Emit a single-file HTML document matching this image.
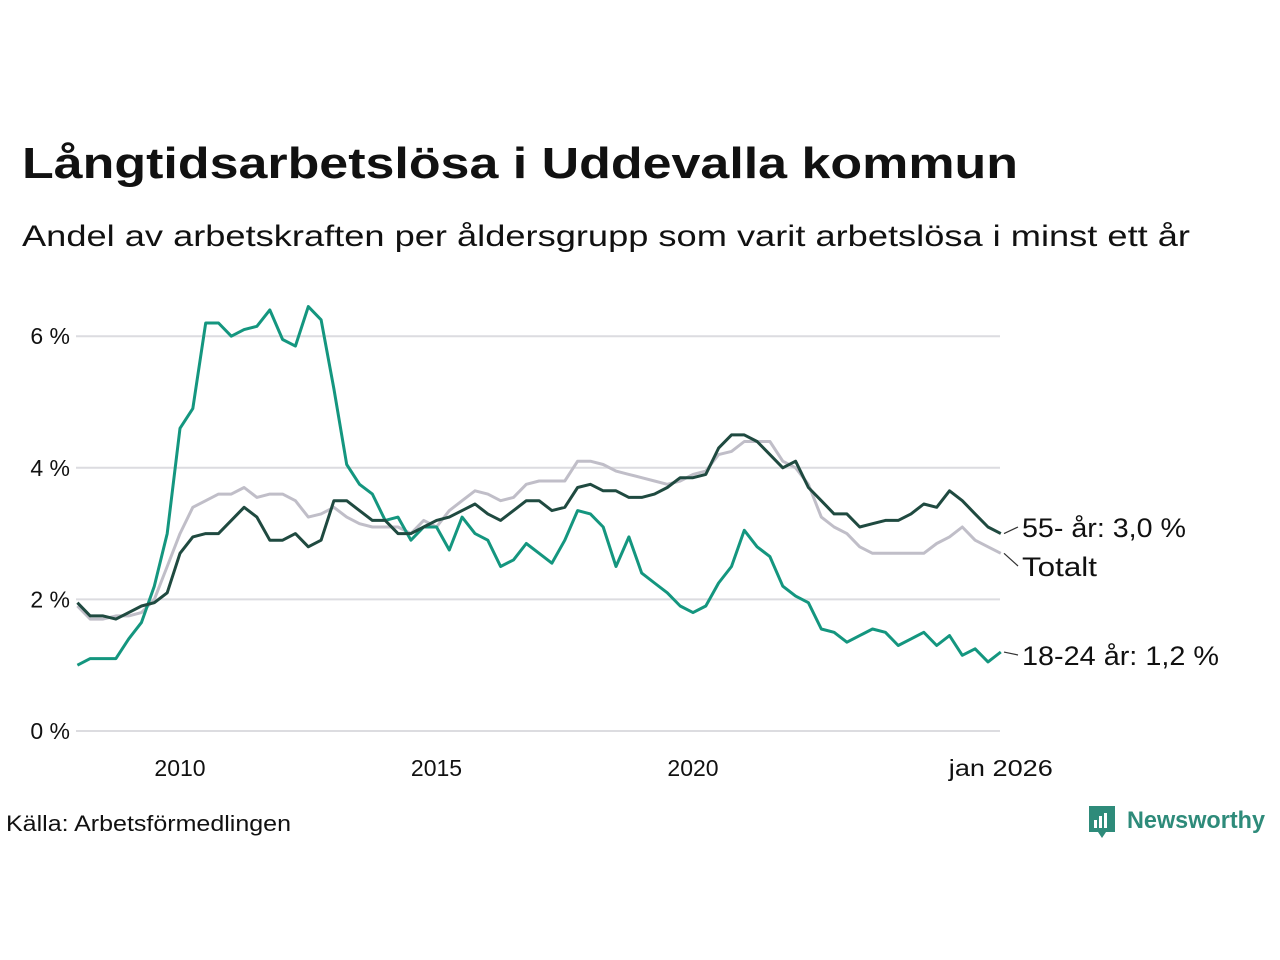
<!DOCTYPE html>
<html><head><meta charset="utf-8"><style>
html,body{margin:0;padding:0;background:#fff;}
svg{display:block;font-family:"Liberation Sans",sans-serif;}
</style></head><body>
<svg id="chart" width="1280" height="960" viewBox="0 0 1280 960" xmlns="http://www.w3.org/2000/svg">
<text x="22" y="178" font-size="44" font-weight="bold" fill="#111" textLength="996" lengthAdjust="spacingAndGlyphs">Långtidsarbetslösa i Uddevalla kommun</text>
<text x="22" y="246" font-size="30" fill="#111" textLength="1168" lengthAdjust="spacingAndGlyphs">Andel av arbetskraften per åldersgrupp som varit arbetslösa i minst ett år</text>
<g id="grid"></g>
<g id="series"></g>
<g id="labels"></g>
<text x="6" y="831" font-size="22" fill="#111" textLength="285" lengthAdjust="spacingAndGlyphs">Källa: Arbetsförmedlingen</text>
<g>
<path d="M1089 806 h26 v26 h-9 l-4 6 l-4 -6 h-9 z" fill="#2e8b7a"/>
<rect x="1094" y="820" width="3" height="8" fill="#fff"/><rect x="1099" y="816" width="3" height="12" fill="#fff"/><rect x="1104" y="813" width="3" height="15" fill="#fff"/>
<text x="1127" y="828" font-size="24" font-weight="bold" fill="#2e8b7a" textLength="138" lengthAdjust="spacingAndGlyphs">Newsworthy</text>
</g>
</svg>
<script>
const yTicks=[0,2,4,6];
const yTickLabels=["0 %","2 %","4 %","6 %"];
const xTicks=[2010,2015,2020,2026];
const xTickLabels=["2010","2015","2020","jan 2026"];
const startYear=2008, step=0.25;
const youth=[1.0,1.1,1.1,1.1,1.4,1.65,2.2,3.0,4.6,4.9,6.2,6.2,6.0,6.1,6.15,6.4,5.95,5.85,6.45,6.25,5.2,4.05,3.75,3.6,3.2,3.25,2.9,3.1,3.1,2.75,3.25,3.0,2.9,2.5,2.6,2.85,2.7,2.55,2.9,3.35,3.3,3.1,2.5,2.95,2.4,2.25,2.1,1.9,1.8,1.9,2.25,2.5,3.05,2.8,2.65,2.2,2.05,1.95,1.55,1.5,1.35,1.45,1.55,1.5,1.3,1.4,1.5,1.3,1.45,1.15,1.25,1.05,1.2];
const old55=[1.95,1.75,1.75,1.7,1.8,1.9,1.95,2.1,2.7,2.95,3.0,3.0,3.2,3.4,3.25,2.9,2.9,3.0,2.8,2.9,3.5,3.5,3.35,3.2,3.2,3.0,3.0,3.1,3.2,3.25,3.35,3.45,3.3,3.2,3.35,3.5,3.5,3.35,3.4,3.7,3.75,3.65,3.65,3.55,3.55,3.6,3.7,3.85,3.85,3.9,4.3,4.5,4.5,4.4,4.2,4.0,4.1,3.7,3.5,3.3,3.3,3.1,3.15,3.2,3.2,3.3,3.45,3.4,3.65,3.5,3.3,3.1,3.0];
const total=[1.9,1.7,1.7,1.75,1.75,1.8,2.0,2.5,3.0,3.4,3.5,3.6,3.6,3.7,3.55,3.6,3.6,3.5,3.25,3.3,3.4,3.25,3.15,3.1,3.1,3.1,3.0,3.2,3.1,3.35,3.5,3.65,3.6,3.5,3.55,3.75,3.8,3.8,3.8,4.1,4.1,4.05,3.95,3.9,3.85,3.8,3.75,3.8,3.9,3.95,4.2,4.25,4.4,4.4,4.4,4.1,4.0,3.75,3.25,3.1,3.0,2.8,2.7,2.7,2.7,2.7,2.7,2.85,2.95,3.1,2.9,2.8,2.7];
const NS="http://www.w3.org/2000/svg";
function xs(yr){return 180+(yr-2010)*51.3;}
function ys(v){return 731-v*65.8;}
const grid=document.getElementById('grid');
yTicks.forEach((t,i)=>{
 const l=document.createElementNS(NS,'line');
 
 
 l.setAttribute('x1',76);l.setAttribute('x2',1000);l.setAttribute('y1',ys(t));l.setAttribute('y2',ys(t));
 l.setAttribute('stroke','#dcdce0');l.setAttribute('stroke-width',2);grid.appendChild(l);
 const tx=document.createElementNS(NS,'text');
 
 
 tx.setAttribute('x',70);tx.setAttribute('y',ys(t)+8);tx.setAttribute('text-anchor','end');
 tx.setAttribute('font-size',23);tx.setAttribute('fill','#111');tx.textContent=yTickLabels[i];grid.appendChild(tx);
});
xTicks.forEach((t,i)=>{
 const tx=document.createElementNS(NS,'text');
 
 
 tx.setAttribute('x',xs(t));tx.setAttribute('y',776);tx.setAttribute('text-anchor','middle');
 tx.setAttribute('font-size',23);tx.setAttribute('fill','#111');
 if(i===xTicks.length-1){tx.setAttribute('textLength',104);tx.setAttribute('lengthAdjust','spacingAndGlyphs');}
 tx.textContent=xTickLabels[i];grid.appendChild(tx);
});
const sg=document.getElementById('series');
function line(arr,color,name){
 const p=document.createElementNS(NS,'path');
 
 
 p.setAttribute('d',arr.map((v,i)=>(i?'L':'M')+xs(startYear+i*step).toFixed(1)+' '+ys(v).toFixed(1)).join(' '));
 p.setAttribute('fill','none');p.setAttribute('stroke',color);p.setAttribute('stroke-width',3);p.setAttribute('stroke-linejoin','round');
 sg.appendChild(p);
}
line(total,'#c0bec8','line-totalt');
line(youth,'#14967f','line-18-24');
line(old55,'#1f4a40','line-55plus');
const lg=document.getElementById('labels');
const ends=[[old55,"55- år: 3,0 %",old55[old55.length-1]],[total,"Totalt",total[total.length-1]],[youth,"18-24 år: 1,2 %",youth[youth.length-1]]];
const labelY=[528,567,656];
const labelW=[164,75,197];
ends.forEach((e,i)=>{
 const y0=ys(e[2]);
 const l=document.createElementNS(NS,'line');
 
 
 l.setAttribute('x1',1004);l.setAttribute('y1',y0);l.setAttribute('x2',1018);l.setAttribute('y2',labelY[i]-1);
 l.setAttribute('stroke','#333');l.setAttribute('stroke-width',1.2);lg.appendChild(l);
 const tx=document.createElementNS(NS,'text');
 
 
 tx.setAttribute('x',1022);tx.setAttribute('y',labelY[i]+9);tx.setAttribute('font-size',27);tx.setAttribute('fill','#111');
 tx.setAttribute('textLength',labelW[i]);tx.setAttribute('lengthAdjust','spacingAndGlyphs');
 tx.textContent=e[1];lg.appendChild(tx);
});
</script>
</body></html>
